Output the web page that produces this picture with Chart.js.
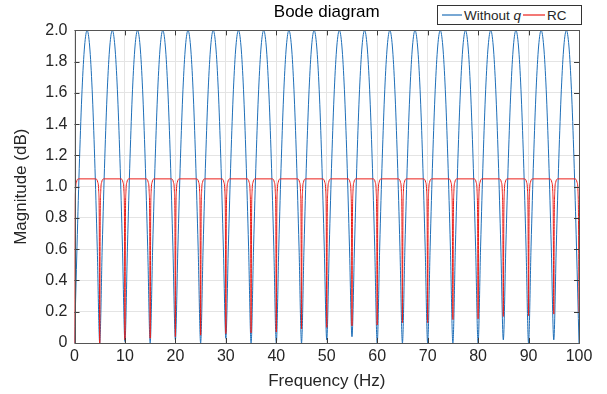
<!DOCTYPE html>
<html><head><meta charset="utf-8">
<script src="https://cdn.jsdelivr.net/npm/chart.js@4.4.0/dist/chart.umd.min.js"></script>
<style>
html,body{margin:0;padding:0;background:#fff;}
#wrap{position:relative;width:607px;height:394px;}
#legend{position:absolute;left:437px;top:5px;width:145px;height:20px;border:1px solid #333;background:#fff;font:13.5px "Liberation Sans",Arial,sans-serif;color:#262626;display:flex;align-items:center;box-sizing:border-box;white-space:nowrap;}
#legend svg{display:block;flex:none;}
</style></head>
<body><div id="wrap"><canvas id="c" width="607" height="394" style="width:607px;height:394px"></canvas>
<div id="legend"><svg width="26" height="10"><line x1="4" y1="5" x2="24" y2="5" stroke="#1f6fb8" stroke-width="1.2"/></svg><span>Without&nbsp;<i>q</i></span><svg width="26" height="10"><line x1="2" y1="5" x2="24" y2="5" stroke="#eb1e19" stroke-width="1.2"/></svg><span>RC</span></div></div>
<script>
const blueFreq = [
0,0.5,1,1.5,2,2.5,3,3.5,4,4.5,
5,5.5,6,6.5,7,7.5,8,8.5,9,9.5,
10,10.5,11,11.5,12,12.5,13,13.5,14,14.5,
15,15.5,16,16.5,17,17.5,18,18.5,19,19.5,
20,20.5,21,21.5,22,22.5,23,23.5,24,24.5,
25,25.5,26,26.5,27,27.5,28,28.5,29,29.5,
30,30.5,31,31.5,32,32.5,33,33.5,34,34.5,
35,35.5,36,36.5,37,37.5,38,38.5,39,39.5,
40,40.5,41,41.5,42,42.5,43,43.5,44,44.5,
45,45.5,46,46.5,47,47.5,48,48.5,49,49.5,
50,50.5,51,51.5,52,52.5,53,53.5,54,54.5,
55,55.5,56,56.5,57,57.5,58,58.5,59,59.5,
60,60.5,61,61.5,62,62.5,63,63.5,64,64.5,
65,65.5,66,66.5,67,67.5,68,68.5,69,69.5,
70,70.5,71,71.5,72,72.5,73,73.5,74,74.5,
75,75.5,76,76.5,77,77.5,78,78.5,79,79.5,
80,80.5,81,81.5,82,82.5,83,83.5,84,84.5,
85,85.5,86,86.5,87,87.5,88,88.5,89,89.5,
90,90.5,91,91.5,92,92.5,93,93.5,94,94.5,
95,95.5,96,96.5,97,97.5,98,98.5,99,99.5,
100];
const blueMag = [
0,0.62,1.18,1.62,1.90,2.0,1.90,1.62,1.18,0.62,
0,0.62,1.18,1.62,1.90,2.0,1.90,1.62,1.18,0.62,
0.01,0.62,1.18,1.62,1.90,2.0,1.90,1.62,1.18,0.62,
0,0.62,1.18,1.62,1.90,2.0,1.90,1.62,1.18,0.62,
0.02,0.62,1.18,1.62,1.90,2.0,1.90,1.62,1.18,0.62,
0,0.62,1.18,1.62,1.90,2.0,1.90,1.62,1.18,0.62,
0.03,0.62,1.18,1.62,1.90,2.0,1.90,1.62,1.18,0.62,
0,0.62,1.18,1.62,1.90,2.0,1.90,1.62,1.18,0.62,
0,0.62,1.18,1.62,1.90,2.0,1.90,1.62,1.18,0.62,
0,0.62,1.18,1.62,1.90,2.0,1.90,1.62,1.18,0.62,
0.02,0.62,1.18,1.62,1.90,2.0,1.90,1.62,1.18,0.62,
0.04,0.62,1.18,1.62,1.90,2.0,1.90,1.62,1.18,0.62,
0,0.62,1.18,1.62,1.90,2.0,1.90,1.62,1.18,0.62,
0,0.62,1.18,1.62,1.90,2.0,1.90,1.62,1.18,0.62,
0,0.62,1.18,1.62,1.90,2.0,1.90,1.62,1.18,0.62,
0,0.62,1.18,1.62,1.90,2.0,1.90,1.62,1.18,0.62,
0,0.62,1.18,1.62,1.90,2.0,1.90,1.62,1.18,0.62,
0.02,0.62,1.18,1.62,1.90,2.0,1.90,1.62,1.18,0.62,
0,0.62,1.18,1.62,1.90,2.0,1.90,1.62,1.18,0.62,
0.02,0.62,1.18,1.62,1.90,2.0,1.90,1.62,1.18,0.62,
0];
const redFreq = [
0,0.1,0.2,0.4,0.8,
4.2,4.6,4.8,4.9,5,5.1,5.2,5.4,5.8,
9.2,9.6,9.8,9.9,10,10.1,10.2,10.4,10.8,
14.2,14.6,14.8,14.9,15,15.1,15.2,15.4,15.8,
19.2,19.6,19.8,19.9,20,20.1,20.2,20.4,20.8,
24.2,24.6,24.8,24.9,25,25.1,25.2,25.4,25.8,
29.2,29.6,29.8,29.9,30,30.1,30.2,30.4,30.8,
34.2,34.6,34.8,34.9,35,35.1,35.2,35.4,35.8,
39.2,39.6,39.8,39.9,40,40.1,40.2,40.4,40.8,
44.2,44.6,44.8,44.9,45,45.1,45.2,45.4,45.8,
49.2,49.6,49.8,49.9,50,50.1,50.2,50.4,50.8,
54.2,54.6,54.8,54.9,55,55.1,55.2,55.4,55.8,
59.2,59.6,59.8,59.9,60,60.1,60.2,60.4,60.8,
64.2,64.6,64.8,64.9,65,65.1,65.2,65.4,65.8,
69.2,69.6,69.8,69.9,70,70.1,70.2,70.4,70.8,
74.2,74.6,74.8,74.9,75,75.1,75.2,75.4,75.8,
79.2,79.6,79.8,79.9,80,80.1,80.2,80.4,80.8,
84.2,84.6,84.8,84.9,85,85.1,85.2,85.4,85.8,
89.2,89.6,89.8,89.9,90,90.1,90.2,90.4,90.8,
94.2,94.6,94.8,94.9,95,95.1,95.2,95.4,95.8,
99.2,99.6,99.8,99.9,100];
const redMag = [
0,0.81,0.97,1.03,1.05,
1.05,1.03,0.97,0.81,0.00,0.81,0.97,1.03,1.05,
1.05,1.03,0.97,0.81,0.02,0.81,0.97,1.03,1.05,
1.05,1.03,0.97,0.81,0.03,0.81,0.97,1.03,1.05,
1.05,1.03,0.97,0.81,0.04,0.81,0.97,1.03,1.05,
1.05,1.03,0.97,0.81,0.05,0.81,0.97,1.03,1.05,
1.05,1.03,0.97,0.81,0.06,0.81,0.97,1.03,1.05,
1.05,1.03,0.97,0.81,0.065,0.81,0.97,1.03,1.05,
1.05,1.03,0.97,0.81,0.07,0.81,0.97,1.03,1.05,
1.05,1.03,0.97,0.81,0.09,0.81,0.97,1.03,1.05,
1.05,1.03,0.97,0.81,0.10,0.81,0.97,1.03,1.05,
1.05,1.03,0.97,0.81,0.11,0.81,0.97,1.03,1.05,
1.05,1.03,0.97,0.81,0.115,0.81,0.97,1.03,1.05,
1.05,1.03,0.97,0.81,0.13,0.81,0.97,1.03,1.05,
1.05,1.03,0.97,0.81,0.13,0.81,0.97,1.03,1.05,
1.05,1.03,0.97,0.81,0.15,0.81,0.97,1.03,1.05,
1.05,1.03,0.97,0.81,0.155,0.81,0.97,1.03,1.05,
1.05,1.03,0.97,0.81,0.17,0.81,0.97,1.03,1.05,
1.05,1.03,0.97,0.81,0.175,0.81,0.97,1.03,1.05,
1.05,1.03,0.97,0.81,0.185,0.81,0.97,1.03,1.05,
1.05,1.03,0.97,0.81,0.2];
const xTickValues = [0,10,20,30,40,50,60,70,80,90,100];
const xTickLabels = ['0','10','20','30','40','50','60','70','80','90','100'];
const yTickValues = [0,0.2,0.4,0.6,0.8,1.0,1.2,1.4,1.6,1.8,2.0];
const yTickLabels = ['0','0.2','0.4','0.6','0.8','1.0','1.2','1.4','1.6','1.8','2.0'];
const seriesNames = ['Without q','RC'];

const FONT = '"Liberation Sans", Arial, Helvetica, sans-serif';
const TXT = '#262626';

const framePlugin = {
  id: 'frame',
  afterDatasetsDraw(chart) {
    const {ctx, chartArea: a, scales: {x, y}} = chart;
    ctx.save();
    ctx.lineWidth = 1;
    ctx.strokeStyle = '#3a3a3a';
    ctx.beginPath();
    xTickValues.forEach(v => {
      const px = Math.round(x.getPixelForValue(v)) + 0.5;
      ctx.moveTo(px, a.bottom); ctx.lineTo(px, a.bottom - 5);
      ctx.moveTo(px, a.top); ctx.lineTo(px, a.top + 5);
    });
    yTickValues.forEach(v => {
      const py = Math.round(y.getPixelForValue(v)) + 0.5;
      ctx.moveTo(a.left, py); ctx.lineTo(a.left + 5, py);
      ctx.moveTo(a.right, py); ctx.lineTo(a.right - 5, py);
    });
    ctx.stroke();
    ctx.strokeStyle = '#555';
    ctx.strokeRect(Math.round(a.left) + 0.5, Math.round(a.top) + 0.5,
      Math.round(a.right) - Math.round(a.left), Math.round(a.bottom) - Math.round(a.top));
    ctx.restore();
  }
};

new Chart(document.getElementById('c'), {
  type: 'line',
  data: {
    datasets: [
      { label: seriesNames[0], data: blueFreq.map((f, i) => ({x: f, y: blueMag[i]})),
        borderColor: '#1f6fb8', borderWidth: 1, pointRadius: 0, cubicInterpolationMode: 'monotone', order: 1 },
      { label: seriesNames[1], data: redFreq.map((f, i) => ({x: f, y: redMag[i]})),
        borderColor: '#eb1e19', borderWidth: 1, pointRadius: 0, cubicInterpolationMode: 'monotone', order: 0 }
    ]
  },
  options: {
    responsive: false,
    animation: false,
    events: [],
    layout: { padding: { left: 0, right: 28, top: 0, bottom: 0 } },
    plugins: {
      legend: { display: false },
      tooltip: { enabled: false },
      title: { display: true, text: 'Bode diagram', fullSize: false, color: '#000',
        font: { family: FONT, size: 17, weight: 'normal' }, padding: { top: 2, bottom: 8 } }
    },
    scales: {
      x: {
        type: 'linear', min: 0, max: 100,
        afterBuildTicks: s => { s.ticks = xTickValues.map(v => ({value: v})); },
        afterFit: s => { s.height = 51; },
        ticks: { callback: (v) => xTickLabels[xTickValues.indexOf(v)], color: TXT, padding: 4, maxRotation: 0,
          font: { family: FONT, size: 16 } },
        grid: { color: '#e4e4e4', drawTicks: false },
        border: { display: false },
        title: { display: true, text: 'Frequency (Hz)', color: TXT, font: { family: FONT, size: 17 }, padding: { top: 0, bottom: 2 } }
      },
      y: {
        type: 'linear', min: 0, max: 2,
        afterBuildTicks: s => { s.ticks = yTickValues.map(v => ({value: v})); },
        afterFit: s => { s.width = 74.5; },
        ticks: { callback: (v) => yTickLabels[yTickValues.findIndex(t => Math.abs(t - v) < 1e-9)], color: TXT, padding: 7,
          font: { family: FONT, size: 16 } },
        grid: { color: '#e4e4e4', drawTicks: false },
        border: { display: false },
        title: { display: true, text: 'Magnitude (dB)', color: TXT, font: { family: FONT, size: 17 }, padding: { top: 11, bottom: 0 } }
      }
    }
  },
  plugins: [framePlugin]
});
</script>
</body></html>
